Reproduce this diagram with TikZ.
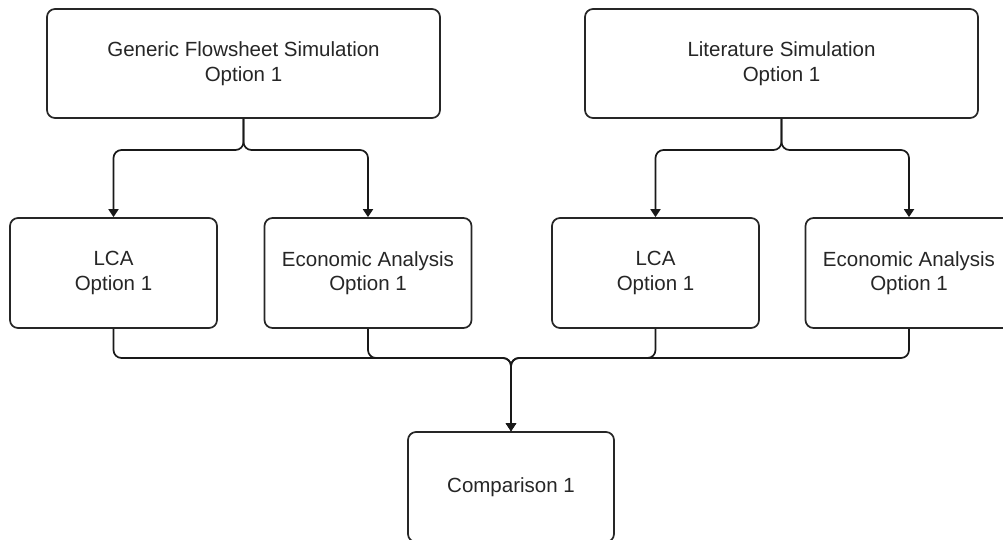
\documentclass[tikz,border=0pt]{standalone}
\usepackage{fontspec}
\setmainfont{Liberation Sans}
\usetikzlibrary{arrows.meta}
\begin{document}
\begin{tikzpicture}[x=1pt,y=-1pt,
  box/.style={draw=black!85,line width=1.7pt,rounded corners=8pt,align=center,
    inner sep=0pt,font=\fontsize{20.5}{24.5}\selectfont,text=black!85},
  conn/.style={draw=black!90,line width=1.7pt,rounded corners=8pt,
    -{Triangle[length=8pt,width=10pt]}}]
\useasboundingbox (0,0) rectangle (1003,539);
\clip (0,0) rectangle (1003,539);
\fill[white] (0,0) rectangle (1003,539);
\node[box,minimum width=393pt,minimum height=109pt] (gfs) at (243.5,63.5) {Generic Flowsheet Simulation\\Option 1};
\node[box,minimum width=393pt,minimum height=109pt] (lit) at (781.5,63.5) {Literature Simulation\\Option 1};
\node[box,minimum width=207pt,minimum height=110pt] (lca1) at (113.5,273) {LCA\\Option 1};
\node[box,minimum width=207pt,minimum height=110pt] (ea1) at (368,273) {Economic Analysis\\Option 1};
\node[box,minimum width=207pt,minimum height=110pt] (lca2) at (655.5,273) {LCA\\Option 1};
\node[box,minimum width=207pt,minimum height=110pt] (ea2) at (909,273) {Economic Analysis\\Option 1};
\node[box,minimum width=206pt,minimum height=110pt] (comp) at (511,487) {Comparison 1};
\coordinate (j1) at (243.5,150);
\coordinate (j2) at (781.5,150);
\coordinate (j3) at (511,358);
\draw[conn] (gfs.south) -- (j1) -| (lca1.north);
\draw[conn] (gfs.south) -- (j1) -| (ea1.north);
\draw[conn] (lit.south) -- (j2) -| (lca2.north);
\draw[conn] (lit.south) -- (j2) -| (ea2.north);
\draw[conn] (lca1.south) |- (j3) -- (comp.north);
\draw[conn] (ea1.south) |- (j3) -- (comp.north);
\draw[conn] (lca2.south) |- (j3) -- (comp.north);
\draw[conn] (ea2.south) |- (j3) -- (comp.north);
\end{tikzpicture}
\end{document}
